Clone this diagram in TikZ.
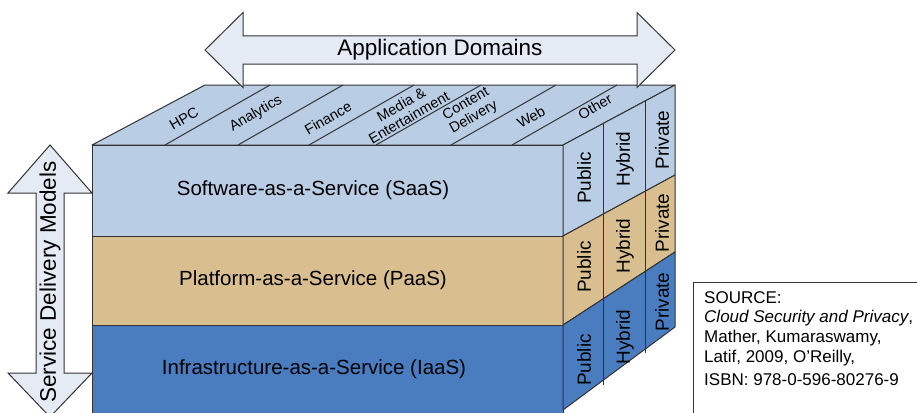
\documentclass[tikz,border=0pt]{standalone}
\usepackage{fontspec}
\setmainfont{Liberation Sans}
\definecolor{saas}{HTML}{B9CDE5}
\definecolor{paas}{HTML}{D9BF8F}
\definecolor{iaas}{HTML}{4A7DC0}
\definecolor{arrowfill}{HTML}{E4EBF5}
\definecolor{edge}{HTML}{333333}
\tikzset{
  face/.style={draw=edge, line width=1pt, line join=round},
  divline/.style={draw=edge, line width=1pt},
  big/.style={font=\fontsize{20.5}{24}\selectfont, inner sep=0pt},
  sidelbl/.style={font=\fontsize{19}{22}\selectfont, rotate=90, inner sep=0pt},
  dom/.style={font=\fontsize{14.5}{15.5}\selectfont, rotate=30, align=center, inner sep=0pt},
  arr/.style={draw=edge, fill=arrowfill, line width=1pt, line join=miter},
  arrlbl/.style={font=\fontsize{22.5}{26}\selectfont, inner sep=0pt},
  src/.style={font=\fontsize{17}{20}\selectfont, anchor=base west, inner sep=0pt},
}
\begin{document}
\begin{tikzpicture}[x=1pt,y=-1pt]
\useasboundingbox (0,0) rectangle (917,412);
\fill[white] (0,0) rectangle (917,412);
% corners
\coordinate (FL) at (92,145);
\coordinate (FR) at (563,145);
\coordinate (BR) at (675,85);
\coordinate (BL) at (205,85);
\coordinate (F1) at (563,236);
\coordinate (B1) at (675,175);
\coordinate (F2) at (563,325);
\coordinate (B2) at (675,252);
\coordinate (F3) at (563,410);
\coordinate (B3) at (675,327);
% top face
\path[face, fill=saas] (FL) -- (FR) -- (BR) -- (BL) -- cycle;
% top dividers
\foreach \i/\xf in {1/165,2/238,3/309,4/376,5/451,6/512}{
  \coordinate (tf\i) at (\xf,145);
  \coordinate (tb\i) at (\xf+105,85);
  \draw[divline] (tf\i) -- (tb\i);
}
% front bands
\path[face, fill=saas] (FL) rectangle (F1);
\path[face, fill=paas] (92,236) rectangle (F2);
\path[face, fill=iaas] (92,325) rectangle (563,420);
% side bands
\path[face, fill=saas] (FR) -- (BR) -- (B1) -- (F1) -- cycle;
\path[face, fill=paas] (F1) -- (B1) -- (B2) -- (F2) -- cycle;
\path[face, fill=iaas] (F2) -- (B2) -- (B3) -- (F3) -- cycle;
% side dividers
\coordinate (s1t) at (603,123.6);
\coordinate (s1b) at (603,385);
\coordinate (s2t) at (645,101);
\coordinate (s2b) at (645,353);
\draw[divline] (s1t) -- (s1b);
\draw[divline] (s2t) -- (s2b);
% front labels
\node[big] (saas) at (313,190) {Software-as-a-Service (SaaS)};
\node[big] (paas) at (313,280) {Platform-as-a-Service (PaaS)};
\node[big] (iaas) at (314,369) {Infrastructure-as-a-Service (IaaS)};
% side labels
\node[sidelbl] (pub1) at (584,178) {Public};
\node[sidelbl] (hyb1) at (625,159) {Hybrid};
\node[sidelbl] (pri1) at (662,140) {Private};
\node[sidelbl] (pub2) at (584,267) {Public};
\node[sidelbl] (hyb2) at (625,246) {Hybrid};
\node[sidelbl] (pri2) at (662,223) {Private};
\node[sidelbl] (pub3) at (584,360) {Public};
\node[sidelbl] (hyb3) at (625,337) {Hybrid};
\node[sidelbl] (pri3) at (662,302) {Private};
% domain labels
\node[dom] (hpc) at (184,119) {HPC};
\node[dom] (ana) at (256,114) {Analytics};
\node[dom] (fin) at (328,118) {Finance};
\node[dom] (med) at (405,111) {Media \&\\Entertainment};
\node[dom] (con) at (470,111) {Content\\Delivery};
\node[dom] (web) at (531,117) {Web};
\node[dom] (oth) at (595,107) {Other};
% application domains arrow
\path[arr] (205,50) -- (243,12.5) -- (243,36) -- (637,36) -- (637,12.5) -- (675,50)
  -- (637,87.5) -- (637,64) -- (243,64) -- (243,87.5) -- cycle;
\node[arrlbl] (appdom) at (440,50) {Application Domains};
% service delivery models arrow
\path[arr] (50,145) -- (92,193) -- (64,193) -- (64,373) -- (92,373) -- (50,417)
  -- (8,373) -- (36,373) -- (36,193) -- (8,193) -- cycle;
\node[arrlbl, rotate=90] (sdm) at (50,282) {Service Delivery Models};
% source box
\path[draw=edge, line width=1pt, fill=white] (693,282) rectangle (930,430);
\node[src] (src1) at (704,303) {SOURCE:};
\node[src] (src2) at (704,322) {\textit{Cloud Security and Privacy}, };
\node[src] (src3) at (704,342) {Mather, Kumaraswamy,};
\node[src] (src4) at (704,362) {Latif, 2009, O’Reilly,};
\node[src] (src5) at (704,385) {ISBN: 978-0-596-80276-9};
\end{tikzpicture}
\end{document}
